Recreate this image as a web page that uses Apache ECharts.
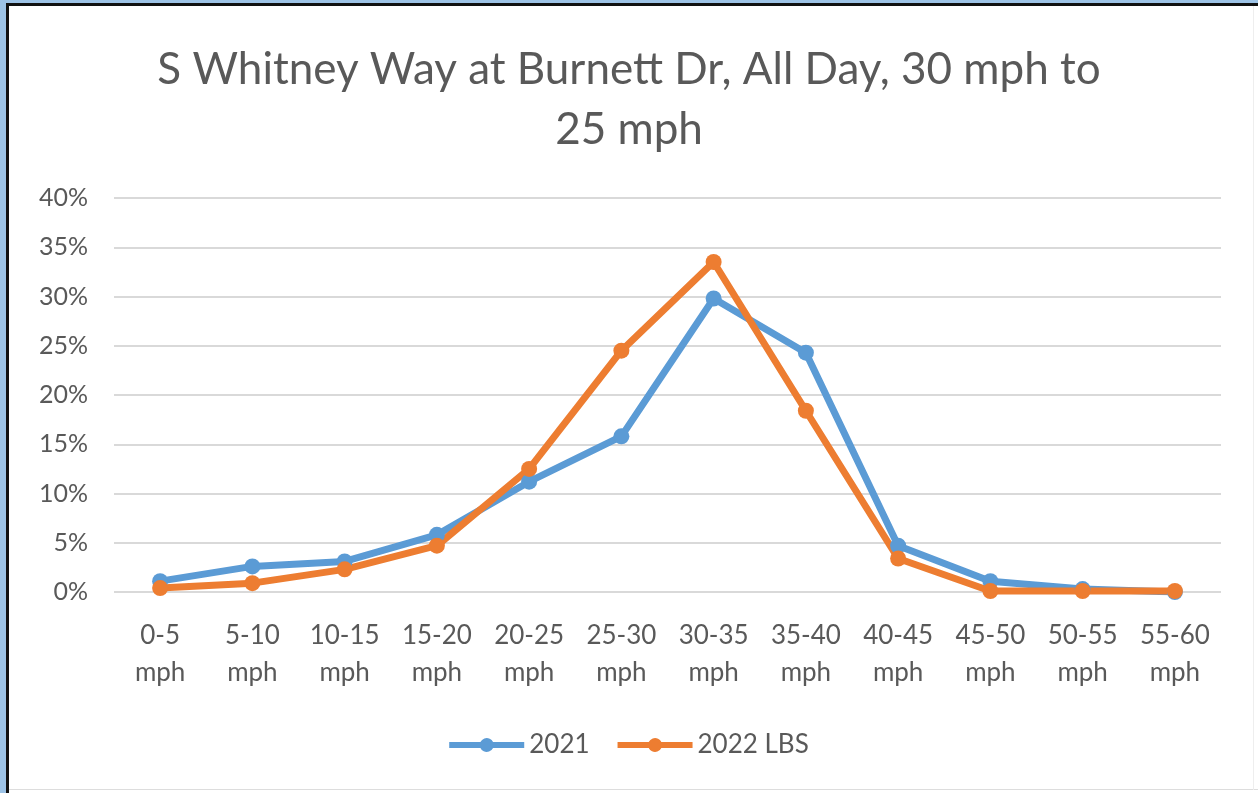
<!DOCTYPE html>
<html><head><meta charset="utf-8">
<script src="https://cdn.jsdelivr.net/npm/echarts@6/dist/echarts.min.js"></script>
<style>
html,body{margin:0;padding:0;width:1258px;height:793px;background:#9DC3E6;overflow:hidden;}
#frame{position:absolute;left:6px;top:3px;width:1252px;height:790px;background:#fff;border-left:3px solid #111;border-top:3px solid #111;box-sizing:border-box;}
#bl{position:absolute;left:9px;top:789px;width:1249px;height:1px;background:#ddd;}
#rl{position:absolute;left:1253px;top:6px;width:1px;height:784px;background:#eee;}
#chart{position:absolute;left:0;top:0;width:1258px;height:793px;}
</style></head>
<body>
<div id="frame"></div><div id="bl"></div><div id="rl"></div>
<div id="chart"></div>
<script>
const categories = ['0-5\nmph','5-10\nmph','10-15\nmph','15-20\nmph','20-25\nmph','25-30\nmph','30-35\nmph','35-40\nmph','40-45\nmph','45-50\nmph','50-55\nmph','55-60\nmph'];
const series2021 = [1.1, 2.6, 3.1, 5.8, 11.2, 15.8, 29.8, 24.3, 4.7, 1.1, 0.3, 0.0];
const series2022 = [0.4, 0.9, 2.3, 4.7, 12.5, 24.5, 33.5, 18.4, 3.4, 0.1, 0.1, 0.1];
const titleText = 'S Whitney Way at Burnett Dr, All Day, 30 mph to\n25 mph';
const seriesNames = ['2021', '2022 LBS'];

const font = 'Lato, "Open Sans", sans-serif';
const legendIcon = 'path://M0,6 L31.18,6 A7,7 0 0,1 43.82,6 L75,6 L75,12 L43.82,12 A7,7 0 0,1 31.18,12 L0,12 Z';
const chart = echarts.init(document.getElementById('chart'), null, {renderer:'canvas'});
chart.setOption({
  backgroundColor: 'transparent',
  animation: false,
  title: {
    text: titleText, left: 'center', top: 35,
    textStyle: {fontFamily: font, fontSize: 44, fontWeight: 'normal', color: '#595959', lineHeight: 60}
  },
  legend: {
    top: 727, left: 'center', itemWidth: 75, itemHeight: 14, itemGap: 28,
    icon: legendIcon,
    textStyle: {fontFamily: font, fontSize: 26, color: '#595959', padding: [0, 0, 0, 0]},
    data: seriesNames
  },
  grid: {left: 114, right: 37, top: 198, bottom: 201},
  xAxis: {
    type: 'category', data: categories, boundaryGap: true,
    axisLine: {show: false}, axisTick: {show: false},
    axisLabel: {fontFamily: font, fontSize: 26, color: '#595959', lineHeight: 37, margin: 25, interval: 0}
  },
  yAxis: {
    type: 'value', min: 0, max: 40, interval: 5,
    axisLine: {show: false}, axisTick: {show: false},
    axisLabel: {fontFamily: font, fontSize: 25, color: '#595959', formatter: '{value}%', margin: 26},
    splitLine: {lineStyle: {color: '#d9d9d9', width: 2}}
  },
  series: [
    {name: seriesNames[0], type: 'line', data: series2021, symbol: 'circle', symbolSize: 16,
     lineStyle: {width: 7, color: '#5B9BD5'}, itemStyle: {color: '#5B9BD5'}},
    {name: seriesNames[1], type: 'line', data: series2022, symbol: 'circle', symbolSize: 16,
     lineStyle: {width: 7, color: '#ED7D31'}, itemStyle: {color: '#ED7D31'}}
  ]
});
</script>
</body></html>
